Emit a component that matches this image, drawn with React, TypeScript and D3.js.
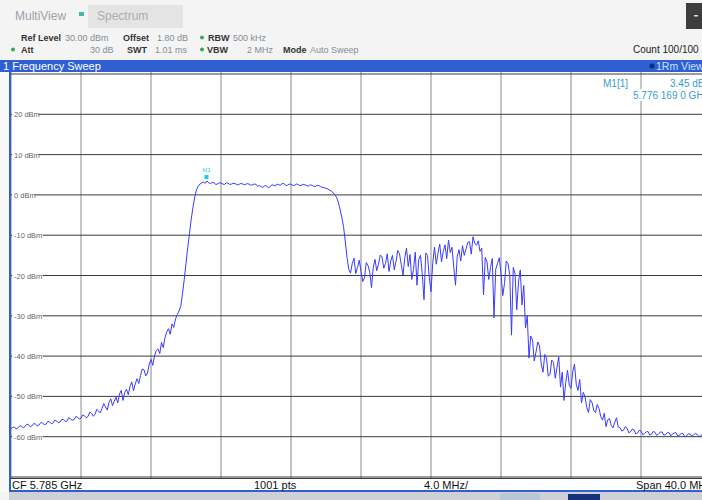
import React from "react";
import * as d3 from "d3";

// ---- data ----
const spanMHz = 40;
const stepMHz = 0.1;
const traceDbm = [
  -58.0, -57.7, -57.6, -58.1, -57.8, -57.3, -57.4, -57.8, -57.5, -56.9,
  -57.0, -57.5, -57.3, -56.7, -56.9, -57.3, -57.1, -56.5, -56.6, -57.0,
  -56.9, -56.2, -56.3, -56.8, -56.6, -55.9, -56.1, -56.5, -56.4, -55.7,
  -55.8, -56.2, -56.1, -55.3, -55.6, -55.9, -55.8, -55.0, -55.2, -55.6,
  -55.4, -54.6, -54.8, -55.3, -55.0, -53.9, -54.2, -54.9, -54.5, -53.2,
  -53.6, -54.1, -53.0, -51.8, -52.6, -53.4, -51.5, -50.6, -52.3, -51.2,
  -50.2, -51.6, -49.4, -48.5, -51.0, -49.0, -48.2, -49.6, -47.5, -46.4,
  -48.6, -46.9, -45.6, -46.8, -44.8, -43.2, -43.4, -44.9, -44.2, -42.0,
  -40.8, -42.3, -40.0, -38.6, -38.2, -39.4, -36.6, -37.9, -35.4, -34.0,
  -33.2, -34.6, -32.0, -32.9, -30.8, -29.7, -28.8, -27.6, -24.5, -21.0,
  -17.0, -13.0, -9.5, -6.0, -3.0, -0.5, 1.2, 2.2, 2.7, 3.0,
  3.2, 2.9, 3.45, 3.0, 2.8, 3.1, 3.0, 2.6, 2.7, 3.0,
  2.9, 2.7, 2.6, 3.0, 2.9, 2.6, 2.7, 2.9, 2.8, 2.6,
  2.5, 2.8, 2.8, 2.5, 2.6, 2.8, 2.7, 2.4, 2.5, 2.7,
  2.6, 2.2, 2.3, 2.0, 1.9, 2.3, 2.2, 1.8, 2.0, 2.5,
  2.4, 2.2, 2.7, 2.5, 2.4, 2.9, 2.8, 2.3, 2.4, 2.7,
  2.6, 2.4, 2.3, 2.7, 2.6, 2.3, 2.4, 2.6, 2.5, 2.3,
  2.2, 2.5, 2.4, 2.1, 2.1, 2.4, 2.3, 2.0, 1.9, 1.8,
  1.6, 1.5, 1.2, 1.0, 0.5, 0.1, -0.6, -1.8, -3.5, -5.5,
  -7.8, -11.5, -15.5, -18.5, -19.4, -17.0, -15.7, -19.5, -18.0, -16.2,
  -19.0, -21.5, -20.6, -16.8, -17.5, -19.2, -23.0, -18.0, -16.0, -18.8,
  -17.2, -14.9, -15.4, -18.2, -17.0, -14.6, -19.0, -16.4, -15.0, -18.6,
  -16.5, -13.8, -14.6, -17.3, -19.9, -15.6, -13.2, -17.8, -14.8, -21.0,
  -18.5, -14.2, -22.4, -16.0, -15.0, -19.6, -26.0, -14.4, -15.0, -20.5,
  -24.0, -16.8, -13.0, -17.2, -14.5, -12.2, -16.6, -14.0, -12.4, -15.8,
  -11.2, -14.3, -13.0, -17.9, -22.4, -15.2, -13.6, -16.4, -12.6, -15.0,
  -13.4, -11.8, -11.6, -14.7, -10.4, -12.0, -12.5, -11.4, -14.0, -13.2,
  -24.8, -15.5, -16.6, -21.0, -18.0, -15.8, -30.5, -18.4, -17.0, -15.6,
  -19.5, -25.0, -22.0, -16.4, -17.0, -19.8, -34.8, -18.0, -19.5, -28.5,
  -21.6, -18.6, -27.3, -22.5, -33.0, -30.0, -40.5, -35.0, -36.0, -41.2,
  -39.0, -36.5, -37.5, -42.0, -44.0, -39.6, -40.5, -45.0, -44.5, -41.0,
  -41.6, -45.5, -42.8, -40.2, -47.7, -44.0, -51.0, -46.5, -43.5, -47.2,
  -48.0, -43.8, -42.0, -47.0, -48.5, -45.8, -51.6, -49.0, -50.0, -52.8,
  -54.0, -50.8, -51.5, -53.5, -54.0, -52.0, -53.0, -55.0, -55.9, -54.2,
  -57.5, -55.8, -55.5, -57.2, -57.8, -56.4, -55.3, -57.6, -57.8, -58.6,
  -58.4, -57.5, -57.9, -59.0, -58.8, -58.1, -58.3, -59.3, -59.1, -58.4,
  -58.6, -59.5, -59.2, -58.8, -58.7, -59.6, -59.4, -58.7, -58.9, -59.7,
  -59.3, -58.9, -58.8, -59.6, -59.5, -59.0, -59.0, -59.8, -59.3, -59.1,
  -59.0, -59.9, -59.6, -59.2, -59.2, -60.0, -59.8, -59.3, -59.3, -59.9,
  -59.6, -59.2, -59.4, -60.0, -59.8, -59.4, -59.5, -60.0, -59.7, -59.3,
  -59.5,
];
const yTicks = [20, 10, 0, -10, -20, -30, -40, -50, -60];
const xGridMHz = [0, 4, 8, 12, 16, 20, 24, 28, 32, 36, 40];
const yGridDbm = [30, 20, 10, 0, -10, -20, -30, -40, -50, -60, -70];
const markerMHz = 11.169;
const markerDbm = 3.45;

const FONT = "'Liberation Sans', Arial, sans-serif";

export default function App() {
  const x = d3.scaleLinear().domain([0, spanMHz]).range([11, 711]);
  const y = d3.scaleLinear().domain([-70, 30]).range([477, 74]);
  const line = d3
    .line<number>()
    .x((_, i) => x(i * stepMHz))
    .y((d) => y(d));
  const path = line(traceDbm) || "";

  const blue = "#2f5fd0";
  const dim = "#868c93";
  const lab = "#333333";

  return (
    <div style={{ position: "fixed", left: 0, top: 0, width: 702, height: 500, overflow: "hidden", background: "#f4f4f4" }}>
      <svg width={702} height={500} style={{ display: "block", fontFamily: FONT }}>
        <defs>
          <clipPath id="plotClip">
            <rect x={11} y={72} width={700} height={406} />
          </clipPath>
        </defs>
        {/* header */}
        <rect x={0} y={0} width={702} height={61} fill="#f4f4f4" />
        <text x={15} y={20} fontSize={12} fill="#9aa1a9">MultiView</text>
        <rect x={79} y={12} width={5} height={4} fill="#49b7a8" />
        <rect x={88} y={5} width={95} height={23} fill="#e4e4e4" />
        <text x={97} y={20} fontSize={12} fill="#a9afb5">Spectrum</text>
        <rect x={686} y={3} width={16} height={26} fill="#3d3d3d" />
        <rect x={694} y={15} width={4} height={1.5} fill="#dddddd" />

        <g fontSize={9}>
          <text x={21} y={40.5} fontWeight="bold" fill={lab}>Ref Level</text>
          <text x={65} y={40.5} fill={dim}>30.00 dBm</text>
          <text x={123} y={40.5} fontWeight="bold" fill={lab}>Offset</text>
          <text x={157} y={40.5} fill={dim}>1.80 dB</text>
          <circle cx={202} cy={37.5} r={2} fill="#3aa85a" />
          <text x={208} y={40.5} fontWeight="bold" fill={lab}>RBW</text>
          <text x={233} y={40.5} fill={dim}>500 kHz</text>

          <circle cx={13} cy={49.5} r={2} fill="#3aa85a" />
          <text x={21} y={52.5} fontWeight="bold" fill={lab}>Att</text>
          <text x={90} y={52.5} fill={dim}>30 dB</text>
          <text x={127} y={52.5} fontWeight="bold" fill={lab}>SWT</text>
          <text x={155} y={52.5} fill={dim}>1.01 ms</text>
          <circle cx={202} cy={49.5} r={2} fill="#3aa85a" />
          <text x={207} y={52.5} fontWeight="bold" fill={lab}>VBW</text>
          <text x={247} y={52.5} fill={dim}>2 MHz</text>
          <text x={283} y={52.5} fontWeight="bold" fill={lab}>Mode</text>
          <text x={310} y={52.5} fill={dim}>Auto Sweep</text>
          <text x={633} y={53} fontSize={10} fill="#222">Count 100/100</text>
        </g>

        {/* title bar */}
        <rect x={0} y={60} width={702} height={12} fill={blue} />
        <text x={3} y={70} fontSize={11} fill="#ffffff">1 Frequency Sweep</text>
        <circle cx={652} cy={66} r={2.5} fill="#0b2a8a" />
        <text x={656} y={70} fontSize={10.5} fill="#cfe0ff">1Rm View</text>

        {/* plot */}
        <rect x={0} y={72} width={10} height={420} fill="#f8f8f8" />
        <rect x={11} y={72} width={700} height={406} fill="#ffffff" />
        <g>
          {xGridMHz.map((m) => (
            <line key={"vx" + m} x1={x(m)} x2={x(m)} y1={72} y2={478} stroke="#8a8a8a" strokeWidth={1} />
          ))}
          {yGridDbm.map((v) => (
            <line key={"hy" + v} x1={11} x2={711} y1={y(v)} y2={y(v)} stroke="#3a3a3a" strokeWidth={1} />
          ))}
        </g>
        <g fontSize={7.5} fill="#666">
          {yTicks.map((v) => {
            const label = `${v} dBm`;
            const w = label.length * 4.1;
            return (
              <g key={"yl" + v}>
                <rect x={12} y={y(v) - 5} width={w + 2} height={9} fill="#ffffff" />
                <text x={14} y={y(v) + 3}>{label}</text>
              </g>
            );
          })}
        </g>

        {/* marker readout */}
        <g fontSize={10} fill="#3a9bd0">
          <text x={603} y={87}>M1[1]</text>
          <text x={670} y={87}>{`${markerDbm.toFixed(2)} dBm`}</text>
          <rect x={631} y={89} width={75} height={12} fill="#ffffff" />
          <text x={633} y={99}>5.776 169 0 GHz</text>
        </g>

        {/* trace */}
        <g clipPath="url(#plotClip)">
          <path d={path} fill="none" stroke="#3a3aff" strokeWidth={1} strokeLinejoin="round" />
        </g>

        {/* marker */}
        <rect x={x(markerMHz) - 2} y={y(markerDbm) - 6} width={4} height={4} fill="#1fd3dc" />
        <text x={x(markerMHz)} y={y(markerDbm) - 9} fontSize={6} fill="#1fd3dc" textAnchor="middle">M1</text>

        {/* left border */}
        <line x1={10} x2={10} y1={72} y2={492} stroke={blue} strokeWidth={2} />

        {/* bottom status bar */}
        <rect x={11} y={478} width={700} height={13} fill="#ffffff" />
        <line x1={11} x2={711} y1={478.5} y2={478.5} stroke="#3a3a3a" strokeWidth={1} />
        <line x1={9} x2={711} y1={491} y2={491} stroke={blue} strokeWidth={2} />
        <g fontSize={11} fill="#111">
          <text x={12} y={489}>CF 5.785 GHz</text>
          <text x={254} y={489}>1001 pts</text>
          <text x={424} y={489}>4.0 MHz/</text>
          <text x={636} y={489}>Span 40.0 MHz</text>
        </g>
        <rect x={9} y={492} width={693} height={8} fill="#cdd0d4" />
        <rect x={500} y={493} width={40} height={7} fill="#b9c6d3" />
        <rect x={568} y={494} width={32} height={6} fill="#16307a" />
      </svg>
    </div>
  );
}
